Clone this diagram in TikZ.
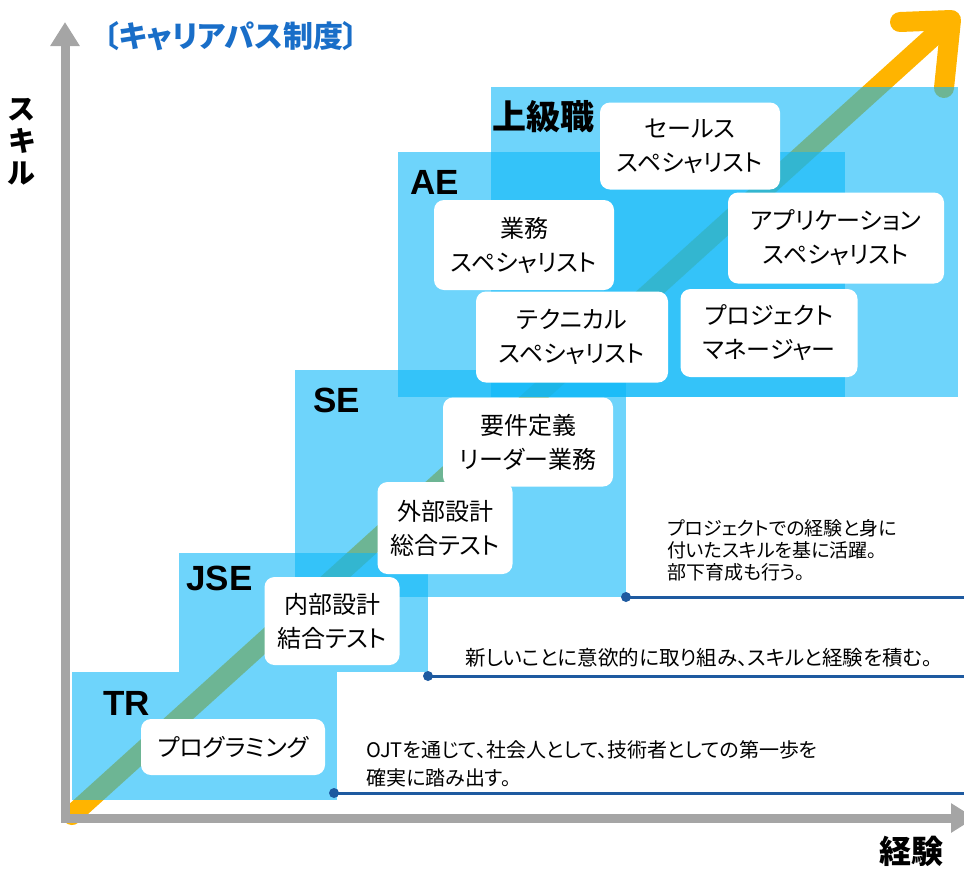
\documentclass[tikz,border=0pt]{standalone}
\usepackage{fontspec}
\setmainfont{Liberation Sans}
\newfontfamily\jp[RawFeature=+palt]{Noto Sans CJK JP}
\usetikzlibrary{arrows.meta}
\definecolor{skyblue}{RGB}{13,183,248}
\definecolor{careerorange}{RGB}{255,180,0}
\definecolor{titleblue}{RGB}{25,110,200}
\definecolor{axisgray}{RGB}{165,165,165}
\definecolor{leadblue}{RGB}{30,90,160}
\tikzset{
  band/.style={fill=skyblue, fill opacity=0.6},
  role/.style={fill=white, rounded corners=10pt, align=center, inner sep=0pt,
    font=\jp\fontsize{24}{34}\selectfont},
  grade/.style={anchor=west, inner sep=0pt, font=\bfseries\fontsize{35}{35}\selectfont},
  lead/.style={leadblue, line width=3pt},
  note/.style={anchor=west, inner sep=0pt, align=left},
  axisline/.style={axisgray, line width=9pt,
    {Triangle[width=28pt,length=24pt]}-{Triangle[width=28pt,length=24pt]}},
}
\begin{document}
\begin{tikzpicture}[x=1pt,y=-1pt]
\useasboundingbox (0,0) rectangle (964,871);

% career arrow
\coordinate (start) at (72,815);
\coordinate (head) at (948,23);
\coordinate (armA) at (900,22);
\coordinate (tip) at (951,20);
\coordinate (armB) at (944,88);
\draw[careerorange, line width=20pt, line cap=round] (start) -- (head);
\draw[careerorange, line width=20pt, line cap=round, line join=round]
  (armA) -- (tip) -- (armB);

% levels
\fill[band] (72,672) rectangle (337,800);
\fill[band] (179,553) rectangle (428,672);
\fill[band] (295,370) rectangle (626,597);
\fill[band] (398,152) rectangle (845,397);
\fill[band] (491,87) rectangle (958,397);

% axes
\coordinate (origin) at (65,818);
\coordinate (ytip) at (65,22);
\coordinate (xtip) at (975,818);
\draw[axisline] (ytip) -- (origin) -- (xtip);

\node[font=\jp\bfseries\fontsize{30}{30}\selectfont, text=titleblue] (title) at (231,36) {〔キャリアパス制度〕};
\node[font=\jp\bfseries\fontsize{28}{32}\selectfont, align=center] (skill) at (22,142) {ス\\キ\\ル};
\node[font=\jp\bfseries\fontsize{32}{32}\selectfont] (exp) at (911,851) {経験};

\node[grade] (tr) at (103,703) {TR};
\node[grade] (jse) at (186,578) {JSE};
\node[grade] (se) at (313,400) {SE};
\node[grade] (ae) at (410,182) {AE};
\node[grade, font=\jp\bfseries\fontsize{34}{34}\selectfont] (senior) at (492,117) {上級職};

\node[role, minimum width=184, minimum height=56] (prog) at (233,747) {プログラミング};
\node[role, minimum width=135, minimum height=88] (naibu) at (332,621) {内部設計\\結合テスト};
\node[role, minimum width=135, minimum height=92] (gaibu) at (445,528) {外部設計\\総合テスト};
\node[role, minimum width=170, minimum height=89] (yoken) at (528,442) {要件定義\\リーダー業務};
\node[role, minimum width=180, minimum height=90] (gyomu) at (524,245) {業務\\スペシャリスト};
\node[role, minimum width=192, minimum height=91] (tech) at (572,337) {テクニカル\\スペシャリスト};
\node[role, minimum width=177, minimum height=88] (pm) at (769,333) {プロジェクト\\マネージャー};
\node[role, minimum width=216, minimum height=91] (app) at (836,238) {アプリケーション\\スペシャリスト};
\node[role, minimum width=180, minimum height=87] (sales) at (690,146) {セールス\\スペシャリスト};

% leader lines
\coordinate (seL) at (626,597);
\coordinate (seR) at (964,597);
\coordinate (jseL) at (428,676);
\coordinate (jseR) at (964,676);
\coordinate (trL) at (334,793);
\coordinate (trR) at (964,793);
\draw[lead] (seL) -- (seR);
\draw[lead] (jseL) -- (jseR);
\draw[lead] (trL) -- (trR);
\fill[leadblue] (seL) circle (5);
\fill[leadblue] (jseL) circle (5);
\fill[leadblue] (trL) circle (5);

\node[note, font=\jp\fontsize{19}{22}\selectfont] (seNote) at (667,550)
  {プロジェクトでの経験と身に\\付いたスキルを基に活躍。\\部下育成も行う。};
\node[note, font=\jp\fontsize{20.5}{28}\selectfont] (jseNote) at (465,658)
  {新しいことに意欲的に取り組み、スキルと経験を積む。};
\node[note, font=\jp\fontsize{20}{28}\selectfont] (trNote) at (366,764)
  {OJTを通じて、社会人として、技術者としての第一歩を\\確実に踏み出す。};
\end{tikzpicture}
\end{document}
